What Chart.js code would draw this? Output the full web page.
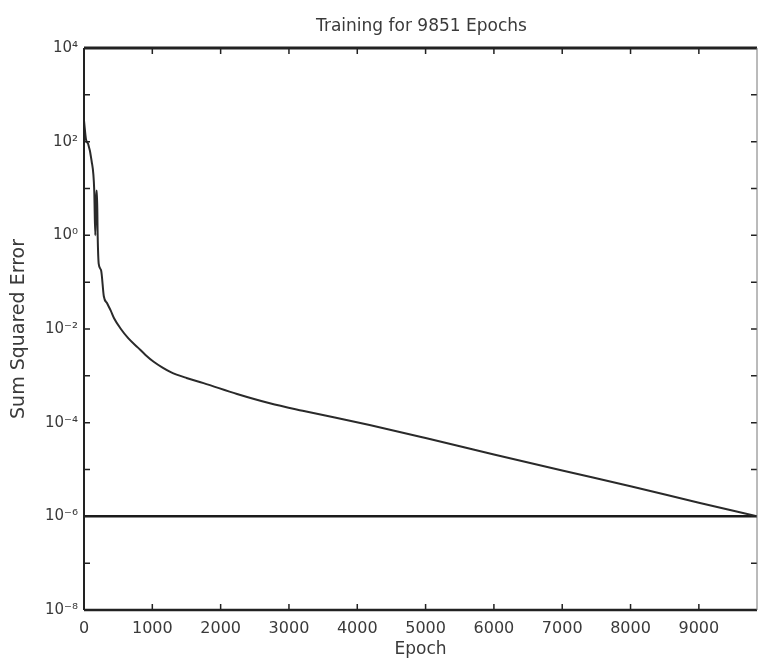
<!DOCTYPE html>
<html>
<head>
<meta charset="utf-8">
<script src="https://cdn.jsdelivr.net/npm/chart.js@4"></script>
<style>
  html, body { margin: 0; padding: 0; background: #fff; }
  #wrap { width: 759px; height: 664px; }
</style>
</head>
<body>
<div id="wrap"><canvas id="trainChart" width="759" height="664"></canvas></div>
<script>
const titleText = 'Training for 9851 Epochs';
const epochs = [0, 30, 60, 110, 150, 165, 180, 190, 200, 215, 250, 290, 340, 390, 440, 540, 650, 790, 900,
    1020, 1150, 1270, 1500, 1750, 2240, 2720, 3200, 4180, 5000, 6000, 7000, 8000, 9000, 9851];
const sse = [280, 110, 90, 40, 9, 1.0, 9, 9, 1.0, 0.25, 0.18, 0.05, 0.035, 0.025, 0.017, 0.01, 0.0063, 0.004, 0.0028,
    0.002, 0.0015, 0.0012, 9e-4, 7e-4, 4.1e-4, 2.6e-4, 1.8e-4, 8.9e-5, 4.7e-5, 2.1e-5, 9.5e-6, 4.4e-6, 1.95e-6, 1.0e-6];
const goalEpochs = [0, 9851];
const goalValues = [1e-6, 1e-6];
const xTicks = [0, 1000, 2000, 3000, 4000, 5000, 6000, 7000, 8000, 9000];
const yTickExps = [4, 2, 0, -2, -4, -6, -8];
const yMinorExps = [4, 3, 2, 1, 0, -1, -2, -3, -4, -5, -6, -7, -8];

const sup = { '-': '\u207B', '0': '\u2070', '1': '\u00B9', '2': '\u00B2', '3': '\u00B3', '4': '\u2074',
    '5': '\u2075', '6': '\u2076', '7': '\u2077', '8': '\u2078', '9': '\u2079' };
function powLabel(v) {
    const e = Math.round(Math.log10(v));
    return '10' + String(e).split('').map(c => sup[c]).join('');
}

const textColor = '#3a3a3a';
const fontFam = '"DejaVu Sans", sans-serif';

// marcas hacia dentro, marco y titulo
const framePlugin = {
    id: 'frame',
    afterDraw(chart) {
        const { ctx, chartArea: a, scales } = chart;
        ctx.save();
        ctx.strokeStyle = '#222';
        ctx.lineWidth = 1.5;
        ctx.beginPath();
        xTicks.forEach(v => {
            const px = scales.x.getPixelForValue(v);
            ctx.moveTo(px, a.bottom); ctx.lineTo(px, a.bottom - 6);
            ctx.moveTo(px, a.top); ctx.lineTo(px, a.top + 6);
        });
        yMinorExps.forEach(e => {
            const py = scales.y.getPixelForValue(Math.pow(10, e));
            ctx.moveTo(a.left, py); ctx.lineTo(a.left + 6, py);
            ctx.moveTo(a.right, py); ctx.lineTo(a.right - 6, py);
        });
        ctx.stroke();
        // bordes
        ctx.strokeStyle = '#222';
        ctx.lineWidth = 3;
        ctx.beginPath();
        ctx.moveTo(a.left, a.top); ctx.lineTo(a.right, a.top);
        ctx.stroke();
        ctx.lineWidth = 2.5;
        ctx.beginPath();
        ctx.moveTo(a.left, a.bottom); ctx.lineTo(a.right, a.bottom);
        ctx.stroke();
        ctx.lineWidth = 2;
        ctx.beginPath();
        ctx.moveTo(a.left, a.top); ctx.lineTo(a.left, a.bottom);
        ctx.stroke();
        ctx.strokeStyle = '#777';
        ctx.lineWidth = 1;
        ctx.beginPath();
        ctx.moveTo(a.right, a.top); ctx.lineTo(a.right, a.bottom);
        ctx.stroke();
        // titulo
        ctx.fillStyle = textColor;
        ctx.font = '17px ' + fontFam;
        ctx.textAlign = 'center';
        ctx.textBaseline = 'middle';
        ctx.fillText(titleText, (a.left + a.right) / 2 + 1, 27);
        ctx.restore();
    }
};

const ctx = document.getElementById('trainChart').getContext('2d');
new Chart(ctx, {
    type: 'line',
    data: {
        datasets: [{
            label: 'SSE',
            data: epochs.map((e, i) => ({ x: e, y: sse[i] })),
            borderColor: '#2a2a2a',
            borderWidth: 2,
            pointRadius: 0,
            cubicInterpolationMode: 'monotone',
            fill: false
        }, {
            label: 'Goal',
            data: goalEpochs.map((e, i) => ({ x: e, y: goalValues[i] })),
            borderColor: '#1a1a1a',
            borderWidth: 2.5,
            pointRadius: 0,
            fill: false
        }]
    },
    options: {
        responsive: false,
        animation: false,
        layout: { padding: { top: 48, right: 2, left: 0, bottom: 0 } },
        plugins: {
            legend: { display: false },
            title: { display: false },
            tooltip: { enabled: false }
        },
        scales: {
            x: {
                type: 'linear',
                min: 0,
                max: 9851,
                afterBuildTicks: s => { s.ticks = xTicks.map(v => ({ value: v })); },
                afterFit: s => { s.height = 54; },
                grid: { display: false, drawTicks: false },
                border: { display: false },
                ticks: {
                    color: textColor,
                    font: { family: fontFam, size: 16 },
                    padding: 9,
                    maxRotation: 0,
                    autoSkip: false,
                    callback: v => String(v)
                },
                title: {
                    display: true,
                    text: 'Epoch',
                    color: textColor,
                    font: { family: fontFam, size: 17 },
                    padding: { top: 0, bottom: 4 }
                }
            },
            y: {
                type: 'logarithmic',
                min: 1e-8,
                max: 1e4,
                afterBuildTicks: s => { s.ticks = yTickExps.map(e => ({ value: Math.pow(10, e) })); },
                afterFit: s => { s.width = 84; },
                grid: { display: false, drawTicks: false },
                border: { display: false },
                ticks: {
                    color: textColor,
                    font: { family: fontFam, size: 15 },
                    padding: 6,
                    autoSkip: false,
                    callback: v => powLabel(v)
                },
                title: {
                    display: true,
                    text: 'Sum Squared Error',
                    color: textColor,
                    font: { family: fontFam, size: 19 },
                    padding: { top: 8, bottom: 0 }
                }
            }
        }
    },
    plugins: [framePlugin]
});
</script>
</body>
</html>
